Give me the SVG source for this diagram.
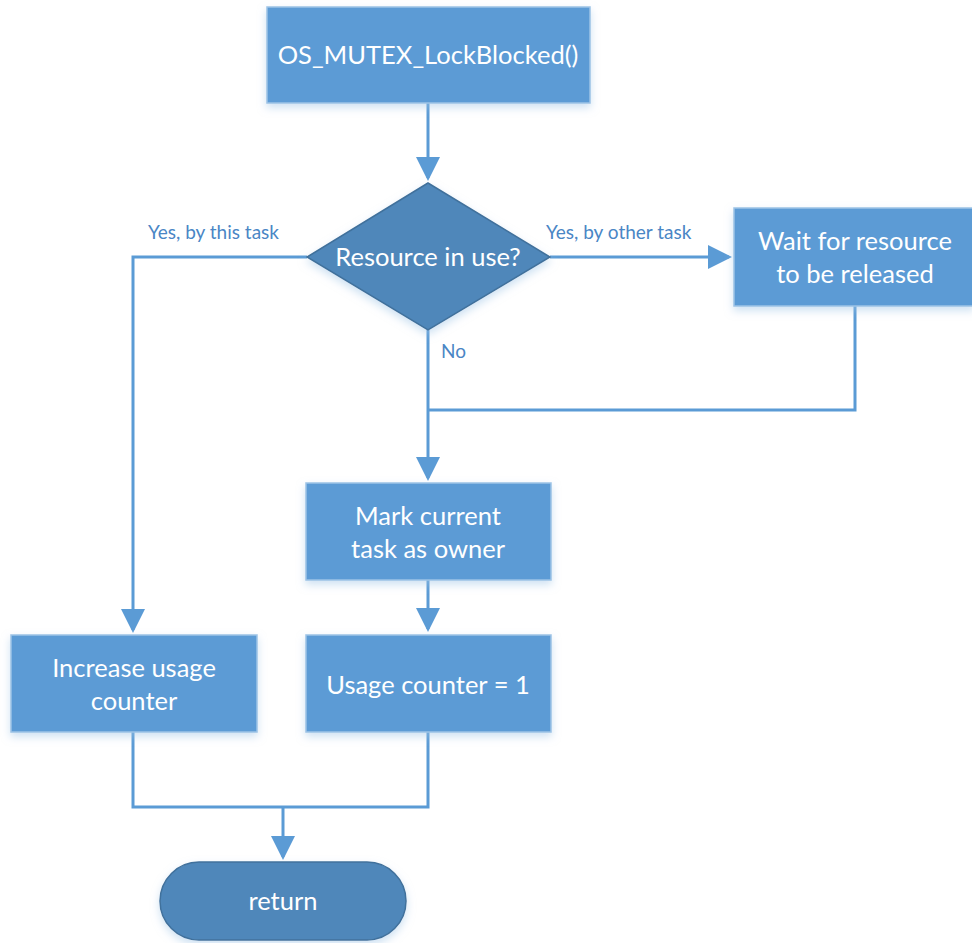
<svg xmlns="http://www.w3.org/2000/svg" width="972" height="943" viewBox="0 0 972 943">
<defs>
<marker id="ah" markerWidth="8" markerHeight="8" refX="7" refY="4" orient="auto" markerUnits="strokeWidth">
<path d="M0,0 L8,4 L0,8 Z" fill="#5B9BD5"/>
</marker>
<filter id="sh" x="-10%" y="-10%" width="130%" height="140%">
<feDropShadow dx="0" dy="4" stdDeviation="4" flood-color="#9DC3E6" flood-opacity="0.5"/>
</filter>
</defs>
<style>
.box{fill:#5B9BD5;stroke:#9DC3E6;stroke-width:1.5;filter:url(#sh)}
.dark{fill:#4F87BA;stroke:#41719C;stroke-width:1.5;filter:url(#sh)}
.t{font-family:Lato,"Open Sans",sans-serif;font-size:25.5px;fill:#FFFFFF;text-anchor:middle}
.lbl{font-family:Lato,"Open Sans",sans-serif;font-size:19px;fill:#4A86C5}
.c{fill:none;stroke:#5B9BD5;stroke-width:3}
</style>
<rect width="972" height="943" fill="#FFFFFF"/>
<g id="connectors">
<path class="c" d="M428,103 V178" marker-end="url(#ah)"/>
<path class="c" d="M307,257 H133 V630" marker-end="url(#ah)"/>
<path class="c" d="M550,257 H729" marker-end="url(#ah)"/>
<path class="c" d="M428,330 V478" marker-end="url(#ah)"/>
<path class="c" d="M855,306 V410 H428"/>
<path class="c" d="M428,580 V629" marker-end="url(#ah)"/>
<path class="c" d="M133,732 V807 H428 V732"/>
<path class="c" d="M283,807 V857" marker-end="url(#ah)"/>
<text class="lbl" x="148" y="239">Yes, by this task</text>
<text class="lbl" x="546" y="239">Yes, by other task</text>
<text class="lbl" x="441" y="358">No</text>
</g>
<g id="start">
<rect class="box" x="267" y="7" width="323" height="96"/>
<text class="t" x="428" y="64">OS_MUTEX_LockBlocked()</text>
</g>
<g id="decision">
<polygon class="dark" points="428,183 550,257 428,330 307,257"/>
<text class="t" x="428" y="266">Resource in use?</text>
</g>
<g id="wait">
<rect class="box" x="734" y="208" width="240" height="98"/>
<text class="t" x="855" y="250">Wait for resource</text>
<text class="t" x="855" y="283">to be released</text>
</g>
<g id="mark">
<rect class="box" x="306" y="483" width="245" height="97"/>
<text class="t" x="428" y="525">Mark current</text>
<text class="t" x="428" y="558">task as owner</text>
</g>
<g id="increase">
<rect class="box" x="11" y="635" width="246" height="97"/>
<text class="t" x="134" y="677">Increase usage</text>
<text class="t" x="134" y="710">counter</text>
</g>
<g id="usage">
<rect class="box" x="306" y="635" width="245" height="97"/>
<text class="t" x="428" y="694">Usage counter = 1</text>
</g>
<g id="return">
<rect class="dark" x="160" y="862" width="246" height="78" rx="39" ry="39"/>
<text class="t" x="283" y="910">return</text>
</g>
</svg>
